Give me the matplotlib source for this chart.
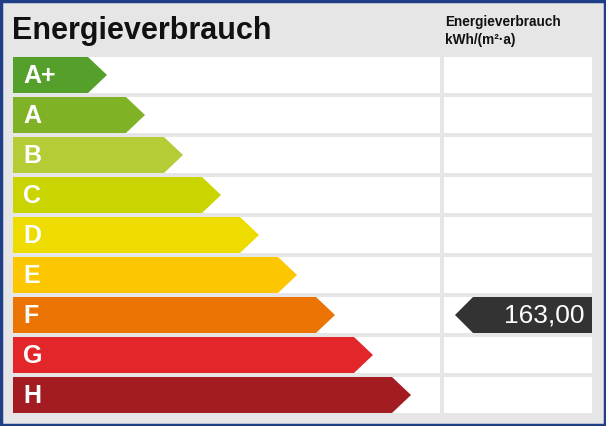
import matplotlib
matplotlib.use("Agg")
import matplotlib.pyplot as plt
from matplotlib.patches import Polygon, Rectangle

plt.rcParams['font.family'] = ['Liberation Sans', 'DejaVu Sans']

classes = ["A+", "A", "B", "C", "D", "E", "F", "G", "H"]
colors = ["#55a02b", "#7fb325", "#b5cc36", "#c9d400", "#eedc00", "#fcc700", "#ec7404", "#e3262a", "#a31c22"]
value = 163.00
value_class = "F"
title = "Energieverbrauch"
unit_label = "Energieverbrauch\nkWh/(m²·a)"

W, H = 606, 426
fig = plt.figure(figsize=(W/100, H/100), dpi=100)
ax = fig.add_axes([0, 0, 1, 1])
ax.set_xlim(0, W); ax.set_ylim(H, 0); ax.axis("off")
ax.add_patch(Rectangle((1, 1), W-2, H-2, facecolor="#e6e6e6", edgecolor="#1f3f86", lw=2.5))
ax.text(12, 31, title, fontsize=22, fontweight="bold", va="center", ha="left", color="#111")
ax.text(445, 31, unit_label, fontsize=9.8, fontweight="bold", va="center", ha="left", color="#111", linespacing=1.3)

top0, step, h = 57, 40, 36
for i, (c, col) in enumerate(zip(classes, colors)):
    y = top0 + i*step
    ax.add_patch(Rectangle((13, y), 427, h, facecolor="white", edgecolor="none"))
    ax.add_patch(Rectangle((444, y), 148, h, facecolor="white", edgecolor="none"))
    end = 107 + 38*i
    ax.add_patch(Polygon([(13, y), (end-19, y), (end, y+h/2), (end-19, y+h), (13, y+h)],
                         closed=True, facecolor=col, edgecolor="none"))
    ax.text(23, y+h/2+1, c, fontsize=18, fontweight="bold", color="white", va="center", ha="left")
    if c == value_class:
        ax.add_patch(Polygon([(455, y+h/2), (473, y), (592, y), (592, y+h), (473, y+h)],
                             closed=True, facecolor="#333333", edgecolor="none"))
        ax.text(585, y+h/2+1, f"{value:.2f}".replace(".", ","), fontsize=19, color="white",
                va="center", ha="right")
fig.savefig("out.png", dpi=100)
